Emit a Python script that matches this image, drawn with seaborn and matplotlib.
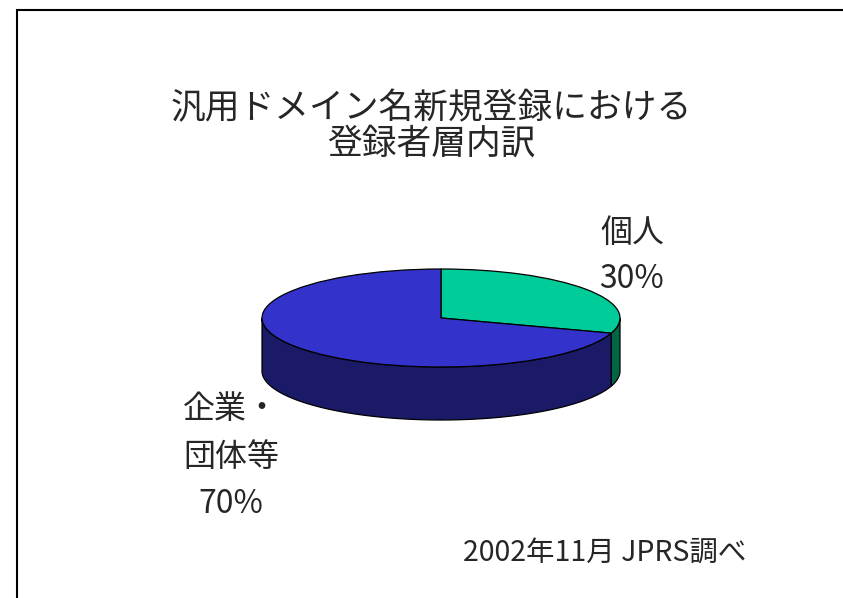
import numpy as np
import matplotlib
matplotlib.use("Agg")
import matplotlib.pyplot as plt
import seaborn as sns
from matplotlib.patches import Rectangle

# data
categories = ["個人", "企業・\n団体等"]
shares = [30, 70]
top_colors = ["#00cc99", "#3333cc"]
side_colors = ["#006644", "#1a1a66"]
title = "汎用ドメイン名新規登録における\n登録者層内訳"
note = "2002年11月 JPRS調べ"

sns.set_style("white")
font = ['Noto Sans CJK JP', 'DejaVu Sans']
plt.rcParams['font.family'] = font

W, H = 843, 598
fig = plt.figure(figsize=(W / 100, H / 100), dpi=100)

# chart frame (runs off the right and bottom edges)
fig.patches.append(Rectangle((17 / W, -0.1), 1.2, 1 - 10 / H + 0.1,
                             transform=fig.transFigure, fill=False,
                             edgecolor="black", linewidth=1.5))

# pie axes: ellipse centre (441,318) px, half width 179, half height 49, depth 53
a_px, b_px, depth_px = 179, 49, 53
cx, cy = 441, 318
depth = depth_px / b_px
ax = fig.add_axes([(cx - a_px) / W, (H - (cy + b_px + depth_px)) / H,
                   2 * a_px / W, (2 * b_px + depth_px) / H])

start, ccw = 90, False
fracs = np.array(shares) / sum(shares)
angle = start
for frac, sc in zip(fracs, side_colors):
    a0, a1 = angle, angle - 360 * frac
    angle = a1
    lo, hi = min(a0, a1), max(a0, a1)
    # visible front part of the rim: angles where sin < 0
    phis = np.linspace(lo, hi, 400)
    phis = phis[np.sin(np.radians(phis)) <= 1e-9]
    if len(phis) < 2:
        continue
    rad = np.radians(phis)
    xs = np.cos(rad)
    ys = np.sin(rad)
    px = np.concatenate([xs, xs[::-1]])
    py = np.concatenate([ys, ys[::-1] - depth])
    ax.fill(px, py, color=sc, edgecolor="black", linewidth=0.9, zorder=1, clip_on=False)

wedges, _ = ax.pie(shares, colors=top_colors, startangle=start, counterclock=ccw,
                   wedgeprops=dict(edgecolor="black", linewidth=0.9))
for w in wedges:
    w.set_zorder(2)
    w.set_clip_on(False)
ax.set_aspect("auto")
ax.set_xlim(-1, 1)
ax.set_ylim(-1 - depth, 1)
ax.axis("off")


def lines_at(x, ys, text, size):
    for y, line in zip(ys, text.split("\n")):
        fig.text(x / W, 1 - y / H, line, ha="center", va="center",
                 fontsize=size, family=font)


lines_at(431, [109, 144], title, 25)
lines_at(632, [233, 279], f"{categories[0]}\n{shares[0]}%", 23)
lines_at(231, [409, 457, 504], f"{categories[1]}\n{shares[1]}%", 23)
lines_at(605, [553], note, 20.5)

fig.savefig("out.png", dpi=100)
